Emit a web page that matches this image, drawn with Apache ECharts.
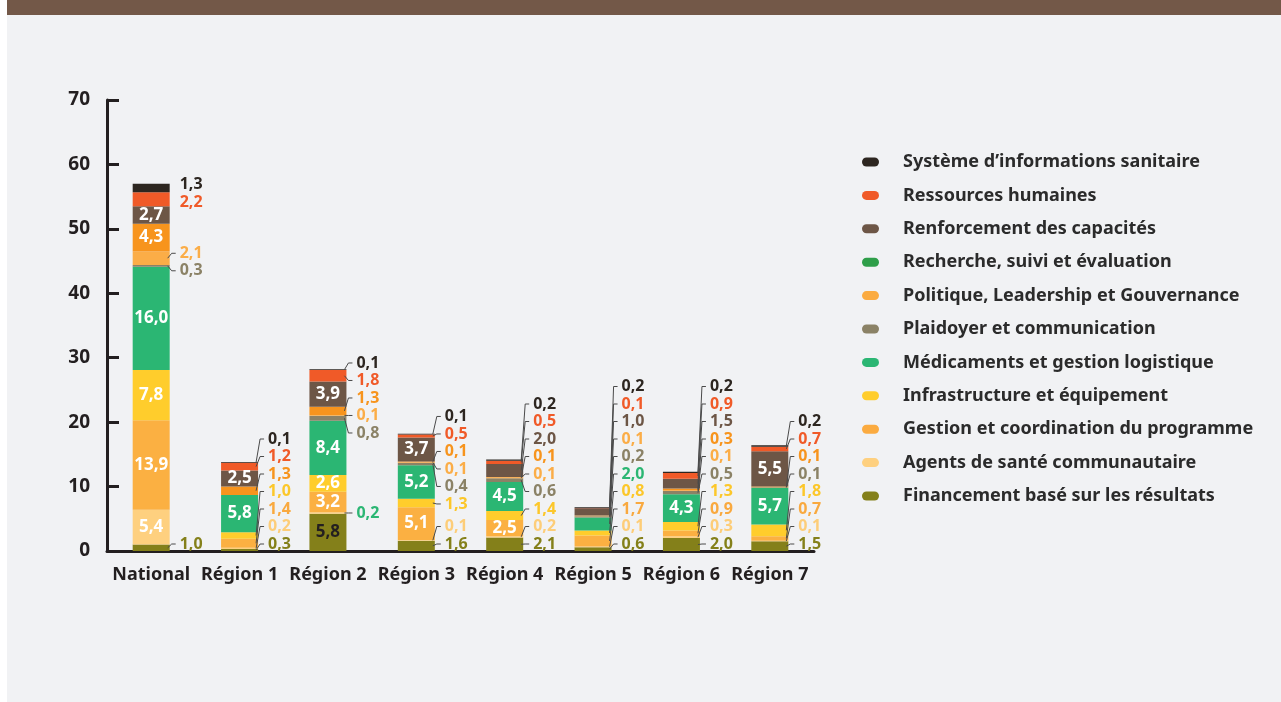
<!DOCTYPE html>
<html>
<head>
<meta charset="utf-8">
<script src="https://cdn.jsdelivr.net/npm/echarts@6/dist/echarts.min.js"></script>
<style>
  html, body { margin: 0; padding: 0; background: #ffffff; }
  #chart { width: 1281px; height: 702px; }
</style>
</head>
<body>
<div id="chart"></div>
<script>
// ---- Data (millions), stack order from bottom to top ----
const categories = ['National', 'Région 1', 'Région 2', 'Région 3', 'Région 4', 'Région 5', 'Région 6', 'Région 7'];

const financement    = [1.0, 0.3, 5.8, 1.6, 2.1, 0.6, 2.0, 1.5];
const agents         = [5.4, 0.2, 0.2, 0.1, 0.2, 0.1, 0.3, 0.1];
const gestion        = [13.9, 1.4, 3.2, 5.1, 2.5, 1.7, 0.9, 0.7];
const infrastructure = [7.8, 1.0, 2.6, 1.3, 1.4, 0.8, 1.3, 1.8];
const medicaments    = [16.0, 5.8, 8.4, 5.2, 4.5, 2.0, 4.3, 5.7];
const plaidoyer      = [0.3, 0, 0.8, 0.4, 0.6, 0.2, 0.5, 0.1];
const politique      = [2.1, 0, 0.1, 0.1, 0.1, 0.1, 0.1, 0];
const recherche      = [4.3, 1.3, 1.3, 0.1, 0.1, 0, 0.3, 0.1];
const renforcement   = [2.7, 2.5, 3.9, 3.7, 2.0, 1.0, 1.5, 5.5];
const ressources     = [2.2, 1.2, 1.8, 0.5, 0.5, 0.1, 0.9, 0.7];
const sis            = [1.3, 0.1, 0.1, 0.1, 0.2, 0.2, 0.2, 0.2];

const yMin = 0, yMax = 70, yStep = 10;

// ---- Series definitions (bottom → top) ----
const stack = [
  { name: 'Financement basé sur les résultats', data: financement,    color: '#84801a', legend: '#84801a', text: '#84801a', inside: '#231f20' },
  { name: 'Agents de santé communautaire',      data: agents,         color: '#fed07f', legend: '#fed07f', text: '#fdcd78', inside: '#ffffff' },
  { name: 'Gestion et coordination du programme', data: gestion,      color: '#fbb042', legend: '#fbab40', text: '#f9a93f', inside: '#ffffff' },
  { name: 'Infrastructure et équipement',       data: infrastructure, color: '#ffcd2c', legend: '#ffcd2c', text: '#fcc72a', inside: '#ffffff' },
  { name: 'Médicaments et gestion logistique',  data: medicaments,    color: '#2bb673', legend: '#2bb673', text: '#2bb673', inside: '#ffffff' },
  { name: 'Plaidoyer et communication',         data: plaidoyer,      color: '#8b8266', legend: '#8b8266', text: '#8b8266', inside: '#ffffff' },
  { name: 'Politique, Leadership et Gouvernance', data: politique,    color: '#fbad47', legend: '#fbab40', text: '#fbad47', inside: '#ffffff' },
  { name: 'Recherche, suivi et évaluation',     data: recherche,      color: '#f7941d', legend: '#2e9e49', text: '#f7941d', inside: '#ffffff' },
  { name: 'Renforcement des capacités',         data: renforcement,   color: '#6d5646', legend: '#6d5646', text: '#6d5646', inside: '#ffffff' },
  { name: 'Ressources humaines',                data: ressources,     color: '#f05a28', legend: '#f05a28', text: '#f05a28', inside: '#ffffff' },
  { name: "Système d’informations sanitaire",   data: sis,            color: '#2d2620', legend: '#2d2620', text: '#2d2620', inside: '#ffffff' }
];

// One label in Région 2 is printed in green
const labelColorOverride = { '1-2': '#2bb673' };

const BAR_WIDTH = 37;
const INSIDE_MIN = 2.5;      // segments at least this tall carry their label inside
const LABEL_GAP = 17.5;      // vertical spacing of the outside label column
const LABEL_OFFSET = 10;     // horizontal distance from bar edge to outside labels
const FONT = '"Noto Sans", "Open Sans", sans-serif';

const fmt = v => v.toFixed(1).replace('.', ',');

let placed = {};      // outside label positions, keyed "series-category"
let leaderLines = []; // graphic polylines joining segments to their outside labels

function layoutLabel(p) {
  const info = placed[p.seriesIndex + '-' + p.dataIndex];
  if (!info) return {};
  return { x: info.x, y: info.y, align: 'left', verticalAlign: 'middle' };
}

function buildSeries() {
  return stack.map((s, si) => ({
    name: s.name,
    type: 'bar',
    stack: 'total',
    barWidth: BAR_WIDTH,
    itemStyle: { color: s.color },
    labelLayout: layoutLabel,
    data: s.data.map((v, ci) => {
      const isInside = v >= INSIDE_MIN;
      return {
        value: v,
        label: {
          show: v > 0,
          position: isInside ? 'inside' : 'right',
          formatter: p => fmt(p.value),
          fontFamily: FONT,
          fontWeight: 'bold',
          fontSize: isInside ? 17 : 16,
          color: isInside ? s.inside : (labelColorOverride[si + '-' + ci] || s.text)
        }
      };
    })
  }));
}

const chart = echarts.init(document.getElementById('chart'), null, { renderer: 'canvas' });

function buildOption() {
  return {
    animation: false,
    backgroundColor: 'transparent',
    graphic: [
      { type: 'rect', z: -10, shape: { x: 7, y: 0, width: 1274, height: 15 }, style: { fill: '#735848' }, silent: true },
      { type: 'rect', z: -10, shape: { x: 7, y: 15, width: 1274, height: 687 }, style: { fill: '#f1f2f4' }, silent: true }
    ].concat(leaderLines),
    grid: { left: 107, right: 467, top: 100, bottom: 151, containLabel: false },
    legend: {
      orient: 'vertical',
      left: 862,
      top: 152,
      padding: 0,
      itemWidth: 17,
      itemHeight: 9,
      itemGap: 13.4,
      selectedMode: false,
      icon: 'path://M4.5,0 L12.5,0 A4.5,4.5 0 0 1 12.5,9 L4.5,9 A4.5,4.5 0 0 1 4.5,0 Z',
      textStyle: { fontFamily: FONT, fontWeight: 'bold', fontSize: 18, color: '#2b2b2b', lineHeight: 20, padding: [0, 0, 0, 19] },
      data: stack.slice().reverse().map(s => ({ name: s.name, itemStyle: { color: s.legend } }))
    },
    xAxis: {
      type: 'category',
      data: categories,
      axisLine: { lineStyle: { color: '#231f20', width: 3 } },
      axisTick: { show: false },
      axisLabel: { interval: 0, fontFamily: FONT, fontWeight: 'bold', fontSize: 18, color: '#231f20', margin: 15 }
    },
    yAxis: {
      type: 'value',
      min: yMin,
      max: yMax,
      interval: yStep,
      splitLine: { show: false },
      axisLine: { show: true, lineStyle: { color: '#231f20', width: 3 } },
      axisTick: { show: true, inside: true, length: 12, lineStyle: { color: '#231f20', width: 3 } },
      axisLabel: { fontFamily: FONT, fontWeight: 'bold', fontSize: 19, color: '#231f20', margin: 17 }
    },
    series: buildSeries()
  };
}

// Spread overlapping outside labels of one bar into a column, keeping each as close as possible to its segment
function spread(ideals, gap, maxY) {
  const clusters = [];
  const fix = cl => {
    const n = cl.ys.length;
    let s = 0;
    cl.ys.forEach((y, k) => { s += y - gap * ((n - 1) / 2 - k); });
    cl.c = Math.min(s / n, maxY - gap * (n - 1) / 2);
  };
  ideals.forEach(y => {
    const cl = { ys: [y], c: y };
    fix(cl);
    clusters.push(cl);
    while (clusters.length > 1) {
      const b = clusters[clusters.length - 1];
      const a = clusters[clusters.length - 2];
      const aTop = a.c - gap * (a.ys.length - 1) / 2;
      const bBottom = b.c + gap * (b.ys.length - 1) / 2;
      if (aTop - bBottom >= gap) break;
      clusters.pop();
      a.ys = a.ys.concat(b.ys);
      fix(a);
    }
  });
  const out = [];
  clusters.forEach(cl => {
    const n = cl.ys.length;
    for (let k = 0; k < n; k++) out.push(cl.c + gap * ((n - 1) / 2 - k));
  });
  return out;
}

chart.setOption(buildOption());

categories.forEach((c, ci) => {
  const items = [];
  let cum = 0;
  stack.forEach((s, si) => {
    const v = s.data[ci];
    if (v > 0 && v < INSIDE_MIN) {
      items.push({ si, ideal: chart.convertToPixel({ gridIndex: 0 }, [ci, cum + v / 2])[1] });
    }
    cum += v;
  });
  const basePt = chart.convertToPixel({ gridIndex: 0 }, [ci, 0]);
  const barRight = basePt[0] + BAR_WIDTH / 2;
  const lx = barRight + LABEL_OFFSET;
  const ys = spread(items.map(it => it.ideal), LABEL_GAP, basePt[1] - 7);
  items.forEach((it, k) => {
    const y = ys[k];
    placed[it.si + '-' + ci] = { x: lx, y };
    const moved = Math.abs(y - it.ideal) >= 3.5;
    // regional bars always show a short hook; the national bar only where a label was shifted
    if (moved || ci > 0) {
      leaderLines.push({
        type: 'polyline',
        z: 10,
        silent: true,
        shape: { points: [[barRight - 2, it.ideal], [lx - 8, y], [lx - 4, y]] },
        style: { stroke: '#4a4a4a', lineWidth: 1, fill: null }
      });
    }
  });
});

chart.setOption(buildOption(), true);
</script>
</body>
</html>
